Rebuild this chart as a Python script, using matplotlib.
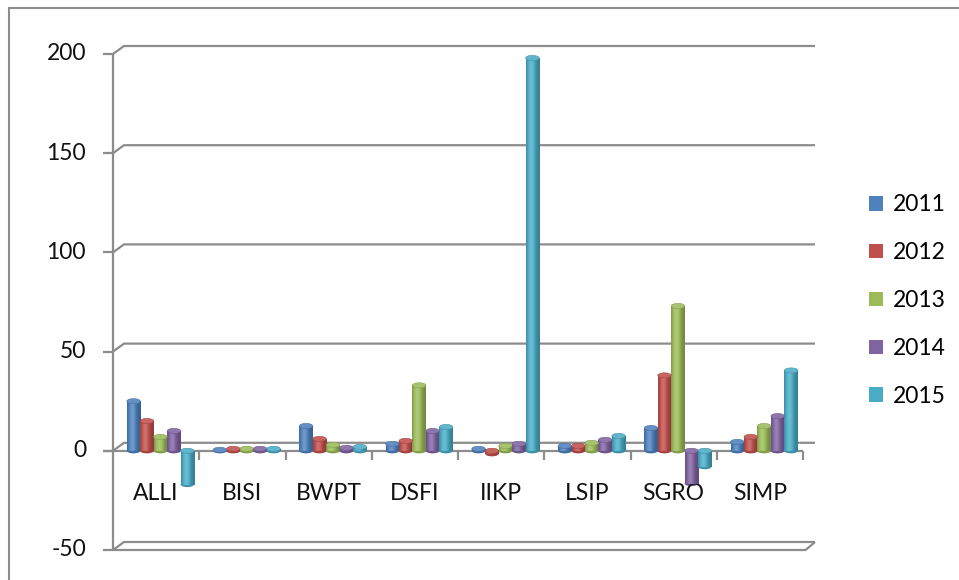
import matplotlib.pyplot as plt
import numpy as np
from matplotlib.patches import Rectangle, Ellipse, Patch
from matplotlib.colors import to_rgb

plt.rcParams['font.family'] = ['Lato', 'DejaVu Sans']

# data
categories = ['ALLI', 'BISI', 'BWPT', 'DSFI', 'IIKP', 'LSIP', 'SGRO', 'SIMP']
years = ['2011', '2012', '2013', '2014', '2015']
v2011 = [25, 0.5, 12.5, 3.5, 1, 2.5, 11.5, 4.5]
v2012 = [15, 1, 6, 5, -1.5, 2.5, 38, 7]
v2013 = [7, 1, 3, 33, 2.5, 4, 73, 12.5]
v2014 = [10, 1, 1.5, 10, 3.5, 5.5, -16.5, 17.5]
v2015 = [-17, 1, 2, 12, 198, 7.5, -8, 40.5]
series = [v2011, v2012, v2013, v2014, v2015]
yticks = [-50, 0, 50, 100, 150, 200]

colors = ['#4F81BD', '#C0504D', '#9BBB59', '#8064A2', '#4BACC6']
grid_c = '#8c8c8c'

W, H = 959, 580
fig = plt.figure(figsize=(W / 100, H / 100), dpi=100)
ax = fig.add_axes([113 / W, 30 / H, 690 / W, 496 / H])
ax.axis('off')

n = len(categories)
px = 690 / n      # pixels per category
py = 496 / 250    # pixels per unit
dx = 11 / px      # depth offset of the back wall
dy = 8 / py
xr = (815 - 113) / px
tick = 10 / px


def line(xs, ys, z=1):
    ax.plot(xs, ys, color=grid_c, lw=1.6, clip_on=False, zorder=z,
            solid_capstyle='butt')


# back wall gridlines + y ticks
for v in yticks:
    line([-tick, 0], [v, v])
    line([0, dx, xr], [v, v + dy, v + dy])
line([0, 0], [-50, 200])
# floor at zero
line([-tick, n], [0, 0], z=2)
for k in range(1, n + 1):
    line([k, k], [0, -4.5], z=2)
# bottom slab
line([0, 8.03], [-50, -50])
line([8.03, xr], [-50, -50 + dy])

for v in yticks:
    ax.text(-tick - 17 / px, v, str(v), ha='right', va='center',
            fontsize=16.5, color='#111111')
for i, c in enumerate(categories):
    ax.text(i + 0.5, -21.5, c, ha='center', va='center', fontsize=16.5,
            color='#111111')


def mix(c, f):
    c = np.array(c)
    if f <= 1:
        return c * f
    return c + (1 - c) * min(f - 1, 1)


t = np.linspace(0, 1, 40)
prof = 0.74 + 0.45 * np.exp(-((t - 0.38) / 0.3) ** 2)
w = 0.156
for j, vals in enumerate(series):
    base = to_rgb(colors[j])
    grad = np.array([mix(base, f) for f in prof])
    for i, v in enumerate(vals):
        x0 = i + 0.16 + j * w
        lo, hi = min(v, 0), max(v, 0)
        ax.imshow(grad[np.newaxis, :, :], extent=[x0, x0 + w, lo, hi],
                  aspect='auto', interpolation='bilinear', zorder=3)
        ax.add_patch(Ellipse((x0 + w / 2, lo), w, 2.6, facecolor=mix(base, 0.85),
                             edgecolor='none', zorder=2.9))
        ax.add_patch(Ellipse((x0 + w / 2, hi), w, 2.6, facecolor=mix(base, 1.12),
                             edgecolor=mix(base, 0.85), lw=0.4, zorder=4))

ax.set_xlim(0, n)
ax.set_ylim(-50, 200)

handles = [Patch(facecolor=c, edgecolor='none') for c in colors]
fig.legend(handles, years, loc='upper left', bbox_to_anchor=(858 / W, 1 - 183 / H),
           frameon=False, fontsize=16.5, handlelength=0.6, handleheight=0.6,
           handletextpad=0.4, labelspacing=1.17, borderpad=0)

fig.add_artist(Rectangle((9 / W, -0.05), 1.2, 1 - 8 / H + 0.05,
                         transform=fig.transFigure, fill=False,
                         edgecolor='#8c8c8c', lw=1.5))

fig.savefig('out.png', dpi=100)
